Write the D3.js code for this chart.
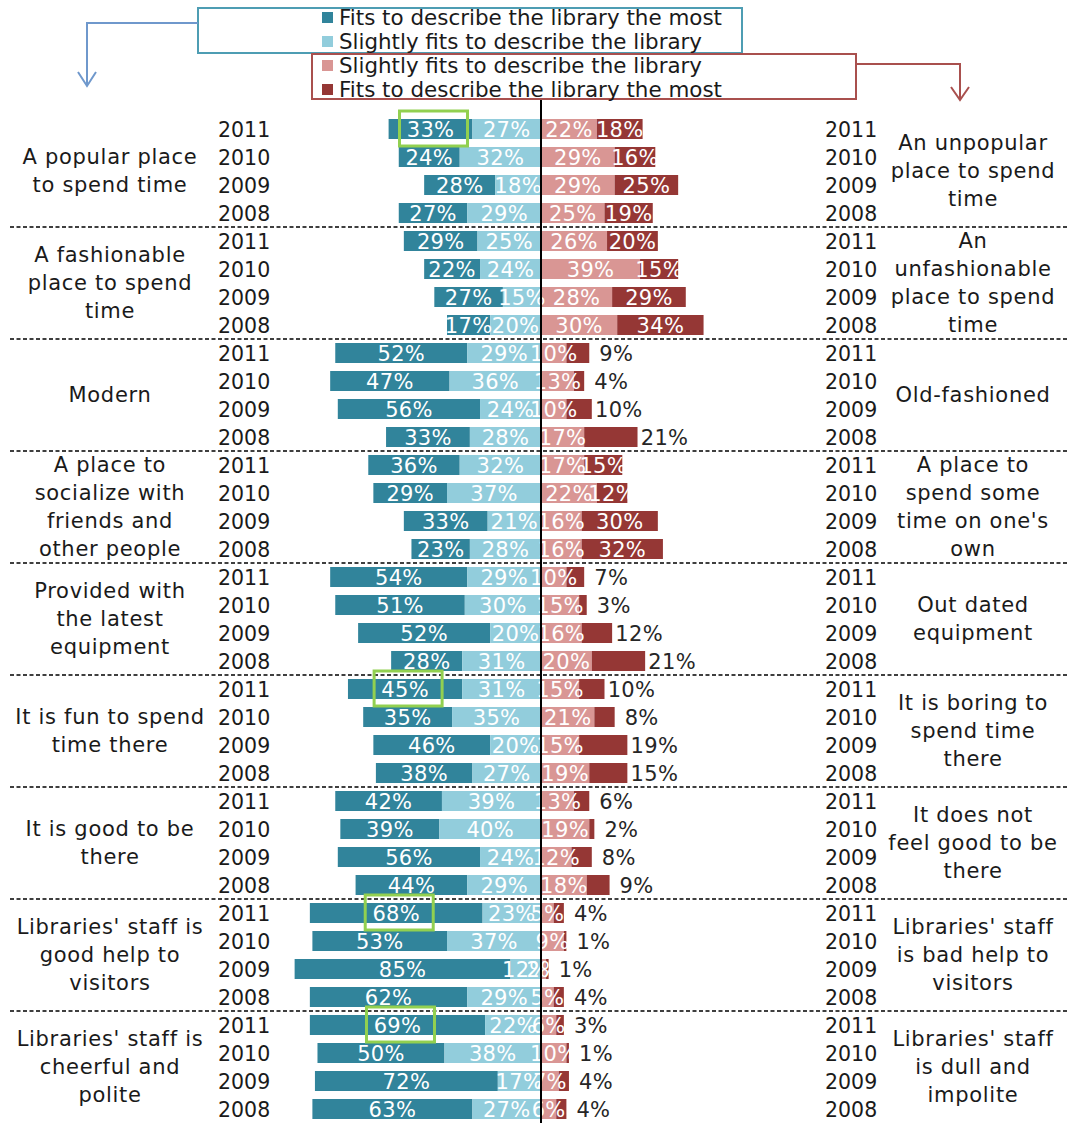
<!DOCTYPE html>
<html><head><meta charset="utf-8">
<script src="https://cdn.jsdelivr.net/npm/d3@7/dist/d3.min.js"></script>
<style>body{margin:0;background:#fff}svg{display:block}</style>
</head><body>
<script>
// ---- data ----
const years = ["2011", "2010", "2009", "2008"];
const positiveLabels = [
  ["A popular place", "to spend time"],
  ["A fashionable", "place to spend", "time"],
  ["Modern"],
  ["A place to", "socialize with", "friends and", "other people"],
  ["Provided with", "the latest", "equipment"],
  ["It is fun to spend", "time there"],
  ["It is good to be", "there"],
  ["Libraries' staff is", "good help to", "visitors"],
  ["Libraries' staff is", "cheerful and", "polite"]
];
const negativeLabels = [
  ["An unpopular", "place to spend", "time"],
  ["An", "unfashionable", "place to spend", "time"],
  ["Old-fashioned"],
  ["A place to", "spend some", "time on one's", "own"],
  ["Out dated", "equipment"],
  ["It is boring to", "spend time", "there"],
  ["It does not", "feel good to be", "there"],
  ["Libraries' staff", "is bad help to", "visitors"],
  ["Libraries' staff", "is dull and", "impolite"]
];
// per group, rows = years (2011,2010,2009,2008)
const posMost = [
  [33,24,28,27],[29,22,27,17],[52,47,56,33],[36,29,33,23],[54,51,52,28],
  [45,35,46,38],[42,39,56,44],[68,53,85,62],[69,50,72,63]
];
const posSlight = [
  [27,32,18,29],[25,24,15,20],[29,36,24,28],[32,37,21,28],[29,30,20,31],
  [31,35,20,27],[39,40,24,29],[23,37,12,29],[22,38,17,27]
];
const negSlight = [
  [22,29,29,25],[26,39,28,30],[10,13,10,17],[17,22,16,16],[10,15,16,20],
  [15,21,15,19],[13,19,12,18],[5,9,2,5],[6,10,7,6]
];
const negMost = [
  [18,16,25,19],[20,15,29,34],[9,4,10,21],[15,12,30,32],[7,3,12,21],
  [10,8,19,15],[6,2,8,9],[4,1,1,4],[3,1,4,4]
];
const outsideLabelGroups = [2,4,5,6,7,8];
const highlighted = [[0,0],[5,0],[7,0],[8,0]]; // [group,row]
const seriesNames = ["Fits to describe the library the most","Slightly fits to describe the library",
                     "Slightly fits to describe the library","Fits to describe the library the most"];

// ---- layout ----
const W = 1068, H = 1123;
const colors = {most:"#31849b", slight:"#92cddc", nslight:"#d99694", nmost:"#953735"};
const font = "'DejaVu Sans', Verdana, sans-serif";
const top0 = 115, groupH = 112, rowH = 28, barH = 20;

const svg = d3.select("body").append("svg").attr("width", W).attr("height", H)
  .style("font-family", font);

const x = d3.scaleLinear().domain([-100, 100]).range([541 - 254, 541 + 254]);
const gy = d3.scaleBand().domain(d3.range(posMost.length)).range([top0, top0 + groupH * posMost.length]);
const ry = d3.scaleBand().domain(d3.range(years.length)).range([0, groupH]);
const rowCenter = (g, r) => gy(g) + ry(r) + ry.bandwidth() / 2;

// rows
const rows = [];
posMost.forEach((arr, g) => arr.forEach((v, r) => {
  rows.push({g, r, pm: v, ps: posSlight[g][r], ns: negSlight[g][r], nm: negMost[g][r]});
}));

// separators
svg.append("g").selectAll("line").data(d3.range(1, posMost.length)).join("line")
  .attr("x1", 10).attr("x2", W).attr("y1", g => gy(g)).attr("y2", g => gy(g))
  .attr("stroke", "#000").attr("stroke-width", 1.5).attr("stroke-dasharray", "4,2.5");

// bars
const segs = [];
rows.forEach(d => {
  segs.push({d, x0: -(d.pm + d.ps), x1: -d.ps, c: colors.most, v: d.pm, key: "pm"});
  segs.push({d, x0: -d.ps, x1: 0, c: colors.slight, v: d.ps, key: "ps"});
  segs.push({d, x0: 0, x1: d.ns, c: colors.nslight, v: d.ns, key: "ns"});
  segs.push({d, x0: d.ns, x1: d.ns + d.nm, c: colors.nmost, v: d.nm, key: "nm"});
});
svg.append("g").selectAll("rect").data(segs).join("rect")
  .attr("x", s => x(s.x0)).attr("width", s => x(s.x1) - x(s.x0))
  .attr("y", s => rowCenter(s.d.g, s.d.r) - barH / 2).attr("height", barH)
  .attr("fill", s => s.c);

// value labels
svg.append("g").selectAll("text").data(segs).join("text")
  .attr("x", s => {
    if (s.key === "nm" && outsideLabelGroups.includes(s.d.g)) return x(s.x1) + 27;
    return (x(s.x0) + x(s.x1)) / 2;
  })
  .attr("y", s => rowCenter(s.d.g, s.d.r) + 7.5)
  .attr("text-anchor", "middle").attr("font-size", 21).attr("letter-spacing", 0.3)
  .attr("fill", s => (s.key === "nm" && outsideLabelGroups.includes(s.d.g)) ? "#262626" : "#fff")
  .text(s => s.v + "%");

// highlight boxes
svg.append("g").selectAll("rect").data(highlighted).join("rect")
  .attr("x", ([g, r]) => (x(-(posMost[g][r] + posSlight[g][r])) + x(-posSlight[g][r])) / 2 + 3 - 34)
  .attr("y", ([g, r]) => rowCenter(g, r) - 18).attr("width", 68).attr("height", 35)
  .attr("fill", "none").attr("stroke", "#92d050").attr("stroke-width", 3);

// center line
svg.append("line").attr("x1", x(0)).attr("x2", x(0)).attr("y1", 100).attr("y2", H)
  .attr("stroke", "#000").attr("stroke-width", 2);

// year labels
rows.forEach(d => {
  [218, 825].forEach(xx => {
    svg.append("text").attr("x", xx).attr("y", rowCenter(d.g, d.r) + 7.5)
      .attr("font-size", 20.5).attr("fill", "#1a1a1a").text(years[d.r]);
  });
});

// category labels
function catLabels(labels, cx) {
  labels.forEach((lines, g) => {
    const cy = gy(g) + groupH / 2 - 1;
    const t = svg.append("text").attr("text-anchor", "middle").attr("font-size", 21)
      .attr("letter-spacing", 0.7).attr("fill", "#1a1a1a");
    lines.forEach((ln, i) => {
      t.append("tspan").attr("x", cx).attr("y", cy + (i - (lines.length - 1) / 2) * 28 + 7.5).text(ln);
    });
  });
}
catLabels(positiveLabels, 110);
catLabels(negativeLabels, 973);

// legend
const lg = svg.append("g");
lg.append("rect").attr("x", 198).attr("y", 8).attr("width", 544).attr("height", 45)
  .attr("fill", "#fff").attr("stroke", "#4e9db3").attr("stroke-width", 2);
lg.append("rect").attr("x", 312).attr("y", 54).attr("width", 544).attr("height", 45)
  .attr("fill", "none").attr("stroke", "#a9504e").attr("stroke-width", 2);
lg.append("path").attr("d", "M198,23 H87 V86 M78,72 L87,86 L96,72")
  .attr("fill", "none").attr("stroke", "#6f98cc").attr("stroke-width", 2);
lg.append("path").attr("d", "M856,64 H960 V100 M951,87 L960,100 L969,87")
  .attr("fill", "none").attr("stroke", "#a9504e").attr("stroke-width", 2);
const legendCols = [colors.most, colors.slight, colors.nslight, colors.nmost];
const legendY = [17, 41, 65, 89];
const legendW = [383, 363, 363, 383];
seriesNames.forEach((n, i) => {
  lg.append("rect").attr("x", 322).attr("y", legendY[i] - 5).attr("width", 11).attr("height", 11)
    .attr("fill", legendCols[i]);
  lg.append("text").attr("x", 339).attr("y", legendY[i] + 7.5).attr("font-size", 21)
    .attr("fill", "#1a1a1a").attr("textLength", legendW[i]).attr("lengthAdjust", "spacingAndGlyphs")
    .text(n);
});
</script>
</body></html>
